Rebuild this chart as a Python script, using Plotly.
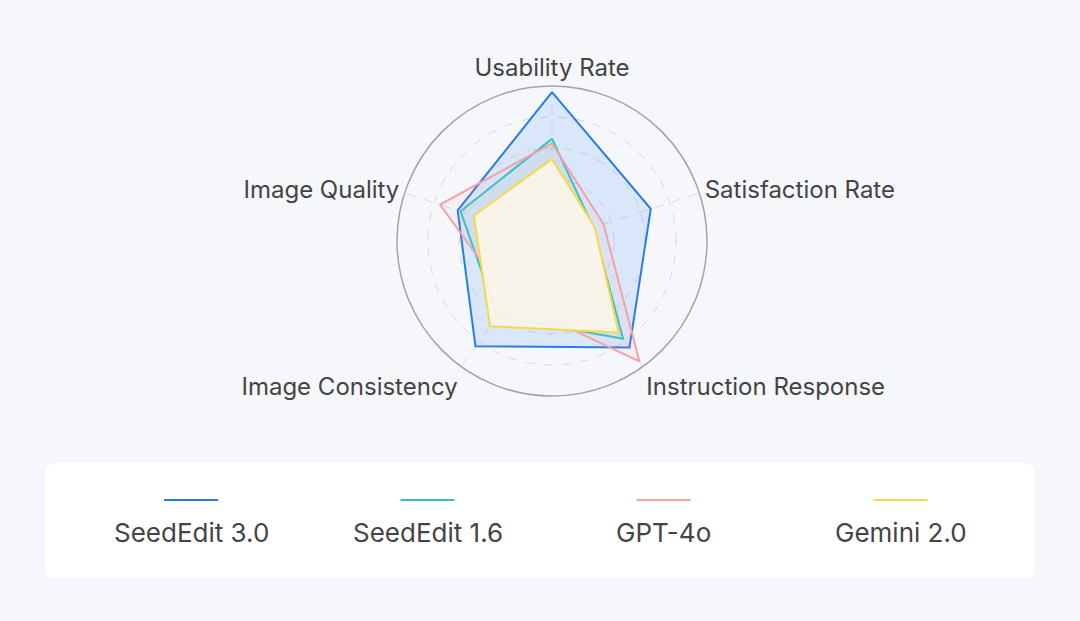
import plotly.graph_objects as go

# Radar chart: model comparison on five evaluation dimensions
categories = ["Usability Rate", "Satisfaction Rate", "Instruction Response",
              "Image Consistency", "Image Quality"]

models = ["SeedEdit 3.0", "SeedEdit 1.6", "GPT-4o", "Gemini 2.0"]
seededit_30 = [96, 67, 85, 84, 64]
seededit_16 = [66, 28, 78, 60, 62]
gpt_4o = [63, 35, 96, 47, 76]
gemini_20 = [53, 29, 73, 68, 53]

line_colors = ["#2a7be6", "#33c3c3", "#f3a3a6", "#f6d84a"]
fill_colors = ["rgba(80,145,240,0.16)", "rgba(60,200,220,0.08)",
               "rgba(245,150,160,0.08)", "rgba(250,244,232,0.95)"]

series = [seededit_30, seededit_16, gpt_4o, gemini_20]

fig = go.Figure()
for name, vals, lc, fc in zip(models, series, line_colors, fill_colors):
    fig.add_trace(go.Scatterpolar(
        r=vals + vals[:1],
        theta=categories + categories[:1],
        name=name,
        mode="lines",
        line=dict(color=lc, width=2),
        fill="toself",
        fillcolor=fc,
    ))

fig.update_layout(
    width=1080, height=621,
    margin=dict(l=0, r=0, t=0, b=0),
    paper_bgcolor="#f5f7fb",
    showlegend=False,
    font=dict(family="Inter, Lato, sans-serif", color="#444444"),
    polar=dict(
        domain=dict(x=[397 / 1080, 707 / 1080], y=[1 - 396 / 621, 1 - 86 / 621]),
        bgcolor="rgba(0,0,0,0)",
        radialaxis=dict(range=[0, 100], dtick=20, showticklabels=False, ticks="",
                        showline=False, gridcolor="#d9dadd", griddash="dash",
                        gridwidth=1),
        angularaxis=dict(direction="clockwise", rotation=90, showline=True,
                         linecolor="#a3a3a6", linewidth=1.5, ticks="",
                         gridcolor="#d9dadd", griddash="dash",
                         tickfont=dict(size=24, color="#444444")),
    ),
)

# legend box drawn by hand: white rounded panel, short line above each name
x0, x1 = 45 / 1080, 1035 / 1080
y0, y1 = 1 - 578 / 621, 1 - 463 / 621
rx, ry = 12 / 1080, 12 / 621
path = (f"M {x0 + rx} {y1} L {x1 - rx} {y1} Q {x1} {y1} {x1} {y1 - ry} "
        f"L {x1} {y0 + ry} Q {x1} {y0} {x1 - rx} {y0} L {x0 + rx} {y0} "
        f"Q {x0} {y0} {x0} {y0 + ry} L {x0} {y1 - ry} Q {x0} {y1} {x0 + rx} {y1} Z")
fig.add_shape(type="path", path=path, xref="paper", yref="paper",
              fillcolor="white", line=dict(width=0), layer="below")

legend_x = [191, 427.5, 663.5, 900.5]
for name, lc, cx in zip(models, line_colors, legend_x):
    fig.add_shape(type="line", xref="paper", yref="paper",
                  x0=(cx - 27) / 1080, x1=(cx + 27) / 1080,
                  y0=1 - 500 / 621, y1=1 - 500 / 621,
                  line=dict(color=lc, width=2))
    fig.add_annotation(text=name, xref="paper", yref="paper",
                       x=cx / 1080, y=1 - 532 / 621, showarrow=False,
                       xanchor="center", yanchor="middle",
                       font=dict(size=26, color="#444444"))

# the page's default body margin would shift the figure by 8px
fig.write_html("out.html", config={"displayModeBar": False},
               post_script="document.body.style.margin='0';")
